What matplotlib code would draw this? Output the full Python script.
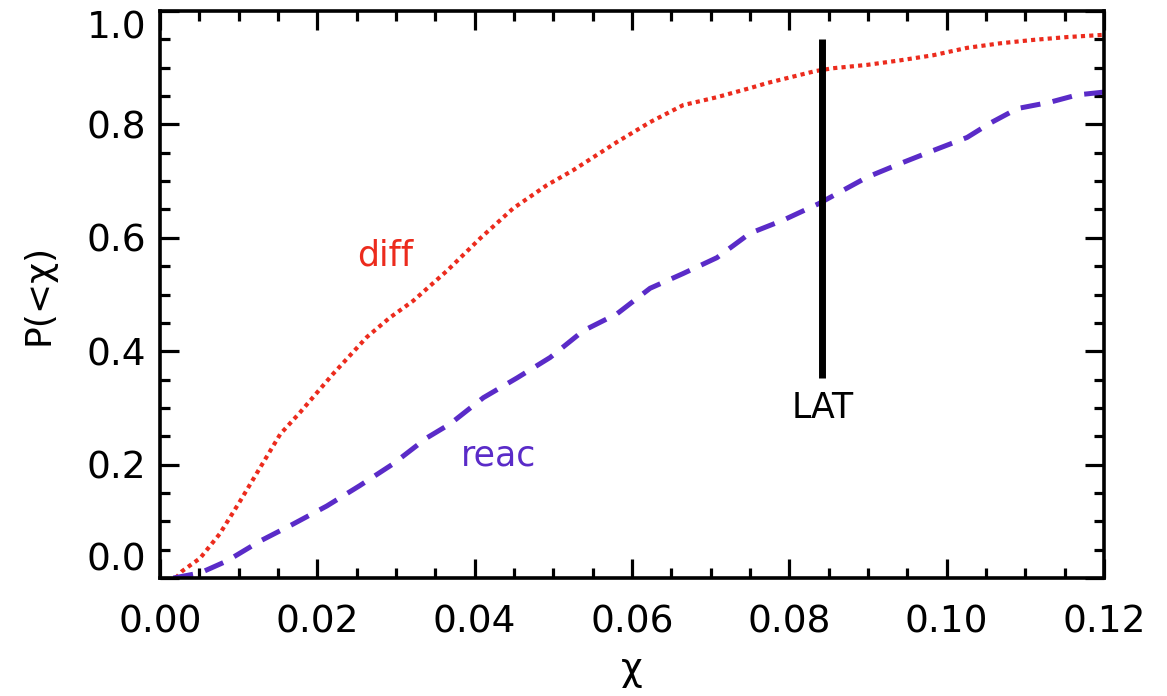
import matplotlib
matplotlib.use("Agg")
import matplotlib.pyplot as plt
from matplotlib.ticker import MultipleLocator

# values
diff_chi = [0.0020, 0.0028, 0.0051, 0.0076, 0.0102, 0.0127, 0.0153, 0.0178, 0.0220,
            0.0263, 0.0292, 0.0322, 0.0365, 0.0407, 0.0449, 0.0492, 0.0525, 0.0581,
            0.0623, 0.0665, 0.0708, 0.0750, 0.0772, 0.0833, 0.0855, 0.0899, 0.0941,
            0.0983, 0.1026, 0.1068, 0.1110, 0.1153, 0.1200]
diff_p = [0.000, 0.012, 0.035, 0.078, 0.136, 0.194, 0.254, 0.292, 0.360,
          0.425, 0.459, 0.489, 0.542, 0.599, 0.652, 0.693, 0.719, 0.769,
          0.804, 0.834, 0.848, 0.864, 0.873, 0.894, 0.899, 0.905, 0.913,
          0.922, 0.935, 0.943, 0.949, 0.954, 0.958]

reac_chi = [0.0017, 0.0051, 0.0085, 0.0127, 0.0169, 0.0212, 0.0254, 0.0296, 0.0339,
            0.0369, 0.0411, 0.0454, 0.0496, 0.0538, 0.0581, 0.0623, 0.0665, 0.0708,
            0.0750, 0.0792, 0.0837, 0.0899, 0.0941, 0.0983, 0.1026, 0.1055, 0.1090,
            0.1131, 0.1166, 0.1200]
reac_p = [0.000, 0.009, 0.030, 0.065, 0.095, 0.127, 0.163, 0.201, 0.247,
          0.272, 0.318, 0.353, 0.389, 0.436, 0.466, 0.511, 0.537, 0.565,
          0.608, 0.631, 0.660, 0.707, 0.731, 0.754, 0.777, 0.802, 0.828,
          0.839, 0.852, 0.857]

lat_chi = 0.0842
lat_range = [0.352, 0.95]

xticks = [0.00, 0.02, 0.04, 0.06, 0.08, 0.10, 0.12]
yticks = [0.0, 0.2, 0.4, 0.6, 0.8, 1.0]

red = "#EC2B1D"
purple = "#5A2BC8"

fig = plt.figure(figsize=(11.67, 6.96), dpi=100)
ax = fig.add_axes([0.1371, 0.1695, 0.8089, 0.8147])

ax.plot(diff_chi, diff_p, color=red, lw=3, linestyle=(0, (1, 1.0)), solid_capstyle="butt")
ax.plot(reac_chi, reac_p, color=purple, lw=3.6, linestyle=(0, (4, 2.5)), dash_capstyle="butt")
ax.plot([lat_chi, lat_chi], lat_range, color="black", lw=5, solid_capstyle="butt")

ax.text(lat_chi, 0.30, "LAT", ha="center", va="center", fontsize=25)
ax.text(0.0286, 0.569, "diff", ha="center", va="center", fontsize=25, color=red)
ax.text(0.0430, 0.216, "reac", ha="center", va="center", fontsize=25, color=purple)

ax.set_xlim(0, 0.12)
ax.set_ylim(0, 1.0)
ax.set_xticks(xticks, [f"{v:.2f}" for v in xticks])
ax.set_yticks(yticks, [f"{v:.1f}" for v in yticks])
ax.xaxis.set_minor_locator(MultipleLocator(0.005))
ax.yaxis.set_minor_locator(MultipleLocator(0.05))

ax.tick_params(which="both", direction="in", top=True, right=True, width=2.3)
ax.tick_params(which="major", length=14)
ax.tick_params(which="minor", length=7)
ax.tick_params(axis="x", which="major", labelsize=27, pad=19)
ax.tick_params(axis="y", which="major", labelsize=27, pad=10)
for s in ax.spines.values():
    s.set_linewidth(2.6)

ylabels = ax.get_yticklabels()
ylabels[0].set_va("bottom")
ylabels[-1].set_va("top")

ax.set_xlabel("χ", fontsize=27, labelpad=8)
ax.set_ylabel("P(<χ)", fontsize=26, labelpad=22)

fig.savefig("out.png", dpi=100)
